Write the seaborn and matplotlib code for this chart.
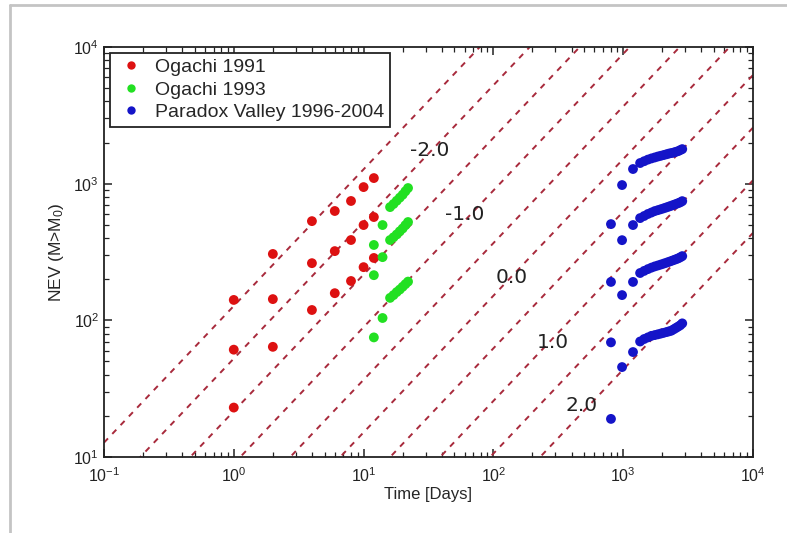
import matplotlib
matplotlib.use("Agg")
import numpy as np
import pandas as pd
import matplotlib.pyplot as plt
import seaborn as sns
from matplotlib.lines import Line2D
from matplotlib.ticker import FixedLocator, NullFormatter

# Ogachi 1991 (giorni, numero di eventi)
t_1991 = [1, 1, 1, 2, 2, 2, 4, 4, 4, 6, 6, 6, 8, 8, 8, 10, 10, 10, 12, 12, 12]
n_1991 = [141, 61, 23, 306, 143, 64, 532, 262, 119, 631, 321, 158,
          747, 387, 194, 944, 498, 245, 1099, 570, 286]

# Ogachi 1993
t_1993 = [12, 14, 16, 17, 18, 19, 20, 21, 22,
          12, 14, 16, 17, 18, 19, 20, 21, 22,
          12, 14, 16, 17, 18, 19, 20, 21, 22]
n_1993 = [356, 498, 674, 710, 750, 790, 830, 880, 929,
          214, 290, 387, 405, 425, 448, 470, 497, 524,
          75, 104, 146, 153, 161, 168, 176, 184, 192]

# Paradox Valley 1996-2004
t_pv_early = [805, 805, 805, 805, 980, 980, 980, 980, 1190, 1190, 1190, 1190]
n_pv_early = [506, 191, 69, 19, 977, 386, 153, 45.5, 1280, 498, 191, 58.6]
t_pv_curve = [1350, 1450, 1550, 1650, 1750, 1850, 1950, 2050,
              2150, 2250, 2350, 2450, 2550, 2650, 2750, 2850]
n_pv_row1 = [1416, 1460, 1500, 1530, 1555, 1580, 1600, 1620,
             1640, 1660, 1675, 1690, 1710, 1730, 1760, 1790]
n_pv_row2 = [560, 580, 600, 615, 630, 640, 650, 660,
             670, 680, 690, 700, 710, 720, 730, 745]
n_pv_row3 = [222, 230, 237, 243, 248, 252, 256, 260,
             264, 268, 272, 276, 280, 284, 289, 295]
n_pv_row4 = [70, 73, 75, 77, 78, 79, 80, 81,
             82, 83, 84, 86, 88, 90, 92, 95]

# Rette di riferimento NEV = t * 10^c
line_c = [2.105, 1.72, 1.335, 0.95, 0.565, 0.18, -0.205, -0.59, -0.975, -1.36]
label_text = ["-2.0", "-1.0", "0.0", "1.0", "2.0"]
label_t = [32.5, 60, 139, 288, 482]
label_n = [1760, 590, 207, 69, 24]

t_pv = t_pv_early + t_pv_curve * 4
n_pv = n_pv_early + n_pv_row1 + n_pv_row2 + n_pv_row3 + n_pv_row4

df = pd.DataFrame({
    "Time": t_1991 + t_1993 + t_pv,
    "NEV": n_1991 + n_1993 + n_pv,
    "Dataset": (["Ogachi 1991"] * len(t_1991) + ["Ogachi 1993"] * len(t_1993)
                + ["Paradox Valley 1996-2004"] * len(t_pv)),
})

sns.set_style("ticks", {"xtick.direction": "in", "ytick.direction": "in"})
plt.rcParams.update({
    "font.family": ["Liberation Sans", "DejaVu Sans"],
    "mathtext.default": "regular",
    "xtick.top": True, "ytick.right": True,
    "xtick.bottom": True, "ytick.left": True,
    "xtick.minor.top": True, "xtick.minor.bottom": True,
    "ytick.minor.left": True, "ytick.minor.right": True,
    "xtick.major.size": 5.5, "ytick.major.size": 5.5,
    "xtick.major.width": 1.1, "ytick.major.width": 1.1,
    "xtick.minor.size": 3.5, "ytick.minor.size": 3.5,
    "xtick.minor.width": 0.9, "ytick.minor.width": 0.9,
    "xtick.color": "#222222", "ytick.color": "#222222",
    "xtick.labelcolor": "#222222", "ytick.labelcolor": "#222222",
})

fig = plt.figure(figsize=(7.87, 5.33), dpi=100)
ax = fig.add_axes([0.1321, 0.1426, 0.8247, 0.7692])
ax.set_xscale("log")
ax.set_yscale("log")

xx = np.array([0.1, 1e4])
for c in line_c:
    ax.plot(xx, xx * 10 ** c, color="#a82a3c", lw=1.4, dashes=(3, 3.2), zorder=1)

palette = {"Ogachi 1991": "#dd1111", "Ogachi 1993": "#22e022",
           "Paradox Valley 1996-2004": "#1414c8"}
sns.scatterplot(data=df, x="Time", y="NEV", hue="Dataset", palette=palette,
                s=50, edgecolor="none", ax=ax, zorder=3)

for txt, tx, ny in zip(label_text, label_t, label_n):
    ax.text(tx, ny, txt, fontsize=14.5, ha="center", va="center",
            family="DejaVu Sans", color="#222222", zorder=4)

ax.set_xlim(0.1, 1e4)
ax.set_ylim(10, 1e4)
# tacche minori esplicite (2..9 per ogni decade)
sub = np.arange(2, 10)
ax.xaxis.set_minor_locator(FixedLocator(np.concatenate([sub * 10.0 ** e for e in range(-1, 4)])))
ax.yaxis.set_minor_locator(FixedLocator(np.concatenate([sub * 10.0 ** e for e in range(1, 4)])))
ax.xaxis.set_minor_formatter(NullFormatter())
ax.yaxis.set_minor_formatter(NullFormatter())
ax.set_xlabel("Time [Days]", fontsize=12, labelpad=1)
ax.set_ylabel("NEV (M>M$_0$)", fontsize=12.5, labelpad=5)
ax.tick_params(which="major", labelsize=11.5)
ax.tick_params(axis="x", which="major", pad=7)
for sp in ax.spines.values():
    sp.set_visible(True)
    sp.set_linewidth(1.3)
    sp.set_color("#222222")

leg = ax.legend(loc="upper left", fontsize=14, frameon=True, fancybox=False,
                framealpha=1, edgecolor="#222222", borderaxespad=0.3,
                handletextpad=0.4, labelspacing=0.25, borderpad=0.3,
                handlelength=1.6, markerscale=0.85)
leg.get_frame().set_linewidth(1.3)

# cornice grigia dell'immagine originale
fig.add_artist(Line2D([10 / 787, 1], [1 - 5 / 533, 1 - 5 / 533], color="#c4c4c4", lw=2))
fig.add_artist(Line2D([10 / 787, 10 / 787], [0, 1 - 5 / 533], color="#c4c4c4", lw=2))

fig.savefig("out.png", dpi=100)
